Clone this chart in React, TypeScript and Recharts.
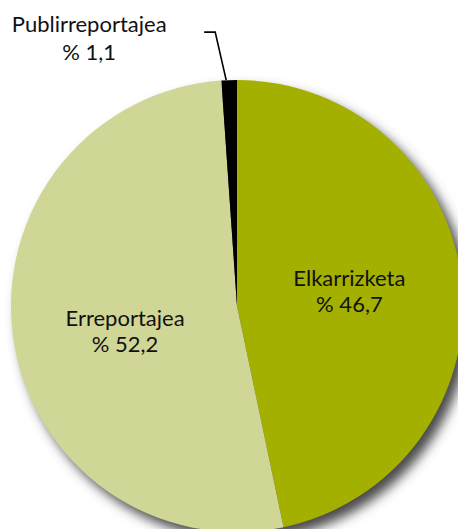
import React from 'react';
import { PieChart, Pie, Cell } from 'recharts';

const categories = ['Elkarrizketa', 'Erreportajea', 'Publirreportajea'];
const shares = [46.7, 52.2, 1.1];
const colors = ['#A3B000', '#D0D696', '#000000'];
const shadowData = [{ name: 'shadow', value: 1 }];

const data = categories.map((name, i) => ({ name, value: shares[i] }));

const RADIAN = Math.PI / 180;
const FONT = 'Lato, "Noto Sans", sans-serif';
const FS = 22;
const labelShift = [-3, 9, 0];

const fmt = (v: number) => '% ' + v.toFixed(1).replace('.', ',');

const renderLabel = (props: any) => {
  const { cx, cy, midAngle, outerRadius, index, name, value } = props;
  if (index === 2) {
    const x0 = cx + outerRadius * Math.cos(-midAngle * RADIAN) - 3;
    const y0 = cy + outerRadius * Math.sin(-midAngle * RADIAN);
    const ex = x0 - 11;
    const ey = y0 - 48;
    const hx = ex - 11;
    const tx = ex - 126;
    return (
      <g>
        <polyline points={`${x0},${y0} ${ex},${ey} ${hx},${ey}`} fill="none" stroke="#000" strokeWidth={1.6} />
        <text x={tx} y={ey} textAnchor="middle" fontFamily={FONT} fontSize={FS} fill="#111">{name}</text>
        <text x={tx} y={ey + 28} textAnchor="middle" fontFamily={FONT} fontSize={FS} fill="#111">{fmt(value)}</text>
      </g>
    );
  }
  const r = outerRadius * 0.5;
  const x = cx + r * Math.cos(-midAngle * RADIAN);
  const y = cy + r * Math.sin(-midAngle * RADIAN) + labelShift[index];
  return (
    <g>
      <text x={x} y={y - 5} textAnchor="middle" fontFamily={FONT} fontSize={FS} fill="#111">{name}</text>
      <text x={x} y={y + 21} textAnchor="middle" fontFamily={FONT} fontSize={FS} fill="#111">{fmt(value)}</text>
    </g>
  );
};

export default function App() {
  return (
    <div style={{ position: 'absolute', left: 0, top: 0, width: 458, height: 529, background: '#fff', overflow: 'hidden' }}>
      <PieChart width={458} height={529} margin={{ top: 0, right: 0, bottom: 0, left: 0 }}>
        <defs>
          <filter id="pieShadow" x="-20%" y="-20%" width="140%" height="140%">
            <feGaussianBlur stdDeviation="6" />
          </filter>
        </defs>
        <Pie
          data={shadowData}
          dataKey="value"
          cx={244}
          cy={314}
          outerRadius={226}
          startAngle={90}
          endAngle={-270}
          stroke="none"
          isAnimationActive={false}
          legendType="none"
        >
          <Cell fill="#4a4a4a" filter="url(#pieShadow)" />
        </Pie>
        <Pie
          data={data}
          dataKey="value"
          nameKey="name"
          cx={237}
          cy={306}
          outerRadius={226}
          startAngle={90}
          endAngle={-270}
          stroke="none"
          label={renderLabel}
          labelLine={false}
          isAnimationActive={false}
        >
          {data.map((d, i) => (
            <Cell key={d.name} fill={colors[i]} />
          ))}
        </Pie>
      </PieChart>
    </div>
  );
}
